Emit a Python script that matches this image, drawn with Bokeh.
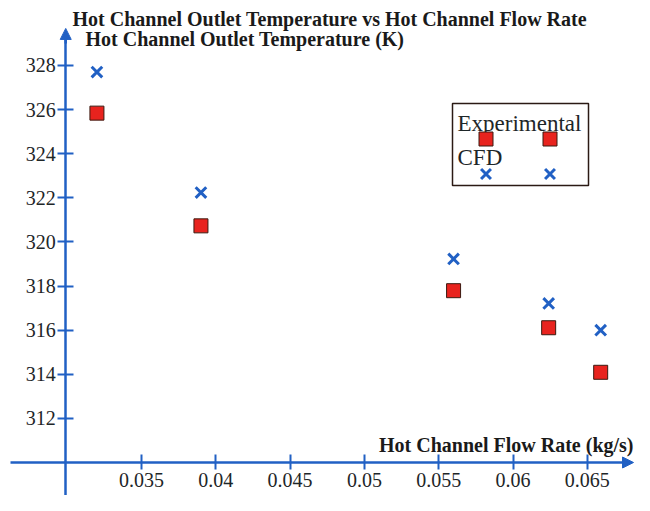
from bokeh.plotting import figure
from bokeh.models import (LinearAxis, FixedTicker, Label, BoxAnnotation, Arrow,
                          NormalHead, Legend, LegendItem, Range1d)
from bokeh.embed import file_html
from bokeh.resources import INLINE

# ---- data ----
flow_rate = [0.0320, 0.0390, 0.0560, 0.0624, 0.0659]
experimental = [325.84, 320.73, 317.79, 316.11, 314.09]
cfd = [327.70, 322.24, 319.23, 317.21, 316.00]
x_ticks = [0.035, 0.04, 0.045, 0.05, 0.055, 0.06, 0.065]
x_tick_labels = ["0.035", "0.04", "0.045", "0.05", "0.055", "0.06", "0.065"]
y_ticks = [312, 314, 316, 318, 320, 322, 324, 326, 328]

BLUE = "#2160c4"
RED = "#e8231e"
TXT = "#1e2628"
SERIF = "Liberation Serif"

p = figure(width=634, height=495, output_backend="svg", toolbar_location=None,
           x_range=Range1d(0.025511, 0.068176), y_range=Range1d(308.504, 330.947),
           x_axis_location=None, y_axis_location=None,
           min_border=0, min_border_left=0, min_border_right=0,
           min_border_top=0, min_border_bottom=0)
p.xgrid.visible = False
p.ygrid.visible = False
p.outline_line_color = None
p.background_fill_color = "white"
p.border_fill_color = "white"

def style_axis(ax):
    ax.axis_line_color = BLUE
    ax.axis_line_width = 2.5
    ax.major_tick_line_color = BLUE
    ax.major_tick_line_width = 2
    ax.minor_tick_line_color = None
    ax.major_tick_in = 8
    ax.major_tick_out = 8
    ax.major_label_text_font = SERIF
    ax.major_label_text_font_size = "20px"
    ax.major_label_text_color = TXT

xaxis = LinearAxis(fixed_location=310, ticker=FixedTicker(ticks=x_ticks),
                   major_label_overrides={t: l for t, l in zip(x_ticks, x_tick_labels)},
                   bounds=(0.0262, 0.0675))
style_axis(xaxis)
xaxis.major_tick_out = 7
xaxis.major_label_standoff = 3
p.add_layout(xaxis, "below")

yaxis = LinearAxis(fixed_location=0.0299, ticker=FixedTicker(ticks=y_ticks),
                   bounds=(308.504, 329.2))
style_axis(yaxis)
yaxis.major_label_standoff = 2
p.add_layout(yaxis, "left")

# arrow heads
p.add_layout(Arrow(end=NormalHead(size=11, fill_color=BLUE, line_color=BLUE),
                   x_start=0.0299, y_start=329.0, x_end=0.0299, y_end=329.68,
                   line_color=BLUE, line_width=2.5))
p.add_layout(Arrow(end=NormalHead(size=11, fill_color=BLUE, line_color=BLUE),
                   x_start=0.0674, y_start=310, x_end=0.06811, y_end=310,
                   line_color=BLUE, line_width=2.5))

sq = p.scatter(flow_rate, experimental, marker="square", size=14,
               fill_color=RED, line_color="#3a1a10", line_width=1)
cx = p.scatter(flow_rate, cfd, marker="x", size=15, line_color=BLUE, line_width=3)

# texts
p.add_layout(Label(x=72, y=476.5, x_units="screen", y_units="screen",
                   text="Hot Channel Outlet Temperature vs Hot Channel Flow Rate",
                   text_font=SERIF, text_font_style="bold", text_font_size="20px",
                   text_color="#1a1a1a", text_baseline="middle"))
p.add_layout(Label(x=85, y=456.5, x_units="screen", y_units="screen",
                   text="Hot Channel Outlet Temperature (K)",
                   text_font=SERIF, text_font_style="bold", text_font_size="20px",
                   text_color="#1a1a1a", text_baseline="middle"))
p.add_layout(Label(x=633, y=51, x_units="screen", y_units="screen",
                   text="Hot Channel Flow Rate (kg/s)", text_align="right",
                   text_font=SERIF, text_font_style="bold", text_font_size="20px",
                   text_color="#1a1a1a", text_baseline="middle"))

# legend box
p.add_layout(BoxAnnotation(left=452, right=588, top=392, bottom=310,
                           left_units="screen", right_units="screen",
                           top_units="screen", bottom_units="screen",
                           fill_color="white", fill_alpha=1,
                           line_color="#2b1a14", line_alpha=1, line_width=1.5))
p.add_layout(Label(x=457, y=372, x_units="screen", y_units="screen",
                   text="Experimental", text_font=SERIF, text_font_size="23px",
                   text_color=TXT, text_baseline="middle"))
p.add_layout(Label(x=457, y=338, x_units="screen", y_units="screen",
                   text="CFD", text_font=SERIF, text_font_size="23px",
                   text_color=TXT, text_baseline="middle"))

def marker_row(renderer, loc):
    leg = Legend(items=[LegendItem(label=" ", renderers=[renderer]),
                        LegendItem(label=" ", renderers=[renderer])],
                 orientation="horizontal", location=loc,
                 glyph_width=35, glyph_height=35, label_width=0, label_height=0,
                 label_standoff=0, label_text_font_size="1px", spacing=29,
                 padding=0, margin=0, border_line_color=None,
                 background_fill_alpha=0)
    p.add_layout(leg, "center")

marker_row(sq, (467.5, 339.5))
marker_row(cx, (467.5, 304.5))

open("out.html", "w").write(file_html(p, INLINE))
